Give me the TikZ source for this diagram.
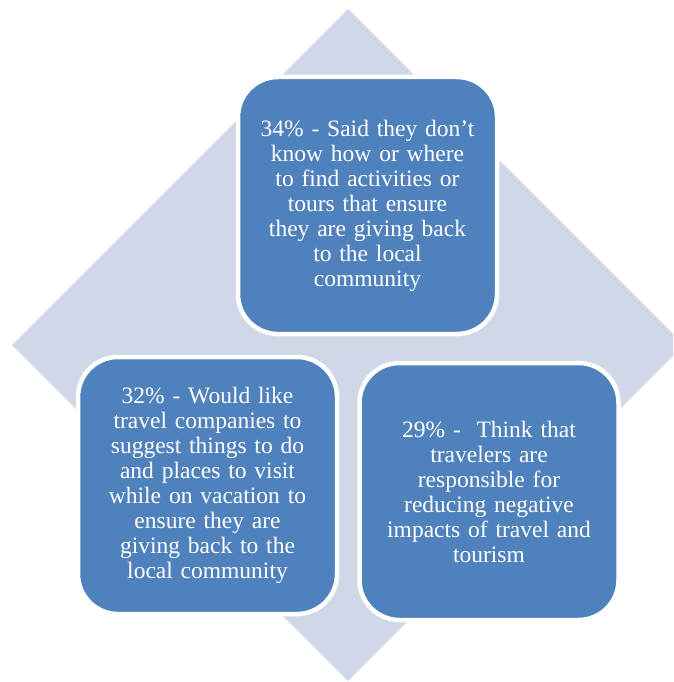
\documentclass[tikz,border=0pt]{standalone}
\usepackage{fontspec}
\setmainfont{Liberation Serif}
\usepackage{xcolor}
\usetikzlibrary{positioning}

\definecolor{boxblue}{HTML}{4F81BD}
\definecolor{backdrop}{HTML}{D0D8E8}

\tikzset{
    factbox/.style={draw=white, line width=4.5pt, fill=boxblue, rounded corners=40pt,
        minimum width=259pt, minimum height=257pt, text width=245pt, align=center,
        text=white, font=\fontsize{23.5}{25}\selectfont, inner sep=0pt}
}

\begin{document}
\begin{tikzpicture}[x=1pt, y=-1pt]
    \useasboundingbox (0, 0) rectangle (673, 682);
    \clip (0, 0) rectangle (673, 682);

    % backing diamond
    \fill[backdrop] (348, 9) -- (12, 345) -- (348, 681) -- (684, 345) -- cycle;

    \node[factbox] (know) at (367.5, 205.5)
        {34\% - Said they don’t\\know how or where\\to find activities or\\tours that ensure\\they are giving back\\to the local\\community};
    \node[factbox] (suggest) at (207.5, 485.5)
        {32\% - Would like\\travel companies to\\suggest things to do\\and places to visit\\while on vacation to\\ensure they are\\giving back to the\\local community};
    \node[factbox] (impact) at (489, 491.5)
        {29\% -\ \ Think that\\travelers are\\responsible for\\reducing negative\\impacts of travel and\\tourism};
\end{tikzpicture}
\end{document}
